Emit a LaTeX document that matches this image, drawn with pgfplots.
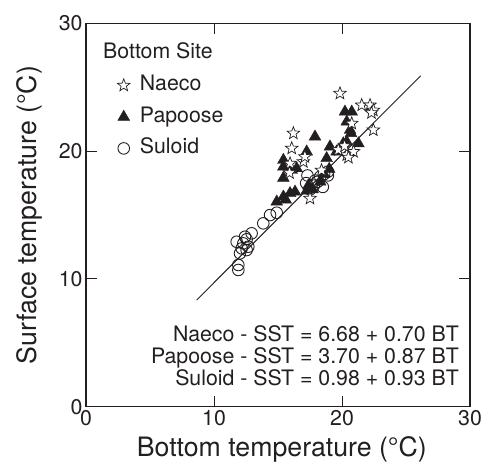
\documentclass[border=0pt]{standalone}
\usepackage{fontspec}
\setmainfont{TeX Gyre Heros}
\usepackage{pgfplots}
\pgfplotsset{compat=1.18}
\definecolor{ink}{HTML}{231F20}

% open five-pointed star
\pgfdeclareplotmark{ostar}{%
  \pgfpathmoveto{\pgfpointpolar{90}{\pgfplotmarksize}}%
  \pgfpathlineto{\pgfpointpolar{126}{0.42\pgfplotmarksize}}%
  \pgfpathlineto{\pgfpointpolar{162}{\pgfplotmarksize}}%
  \pgfpathlineto{\pgfpointpolar{198}{0.42\pgfplotmarksize}}%
  \pgfpathlineto{\pgfpointpolar{234}{\pgfplotmarksize}}%
  \pgfpathlineto{\pgfpointpolar{270}{0.42\pgfplotmarksize}}%
  \pgfpathlineto{\pgfpointpolar{306}{\pgfplotmarksize}}%
  \pgfpathlineto{\pgfpointpolar{342}{0.42\pgfplotmarksize}}%
  \pgfpathlineto{\pgfpointpolar{18}{\pgfplotmarksize}}%
  \pgfpathlineto{\pgfpointpolar{54}{0.42\pgfplotmarksize}}%
  \pgfpathclose
  \pgfusepathqfillstroke
}

\newcommand{\txt}{\fontsize{21.3}{25}\selectfont}

\begin{document}
\begin{tikzpicture}
\begin{axis}[
  scale only axis, width=384pt, height=383.3pt,
  xmin=0, xmax=30, ymin=0, ymax=30,
  xtick={0,10,20,30}, ytick={0,10,20,30},
  tick align=inside, major tick length=11pt,
  axis line style={line width=1.4pt, ink},
  tick style={line width=0.9pt, ink},
  ticklabel style={font=\txt, text=ink},
  /pgf/number format/assume math mode=true,
  xlabel={Bottom temperature (°C)},
  ylabel={Surface temperature (°C)},
  label style={font=\fontsize{26.7}{30}\selectfont, text=ink},
  xlabel style={at={(rel axis cs:0.51,-0.129)}, anchor=base},
  ylabel style={at={(rel axis cs:-0.130,0.5)}, anchor=base},
  legend style={draw=none, fill=none, inner sep=0pt,
    at={(axis cs:2.37,26.06)}, anchor=north west,
    row sep=8.5pt, font=\txt, text=ink,
    nodes={inner sep=2pt, text height=15pt, text depth=4pt}},
  legend cell align=left,
  legend image code/.code={\path (0pt,-4pt) (21pt,4pt); \draw[#1] plot coordinates {(7pt,0pt)};},
]
% Papoose
\addplot[only marks, mark=triangle*, mark size=6.8pt, draw=ink, fill=ink, forget plot] coordinates {
  (17.89,21.13) (17.24,19.96) (19.06,20.35) (18.80,19.44) (15.42,19.30)
  (15.42,18.78) (16.07,18.52) (16.46,18.65) (15.42,17.90) (15.42,16.43)
  (15.94,16.70) (16.33,16.82) (14.90,16.04) (15.60,16.20) (17.24,16.90)
  (17.37,17.30) (20.23,23.08) (20.76,23.08) (20.37,22.30) (20.63,21.65)
  (20.70,21.40) (20.10,20.60) (20.37,20.73) (21.28,20.60) (19.58,19.96)
  (18.60,18.20) (19.00,18.60) (18.30,17.60) (17.70,17.00)
};
% Suloid
\addplot[only marks, mark=o, mark size=5.8pt, mark options={draw=ink, fill=white, line width=0.9pt}, forget plot] coordinates {
  (11.90,10.70) (11.90,11.09) (12.03,12.00) (12.55,12.26) (12.16,12.39)
  (12.68,12.52) (12.29,12.78) (11.77,12.91) (12.42,13.30) (12.94,13.57)
  (12.55,13.10) (13.85,14.35) (14.38,15.00) (14.90,15.18)
  (17.30,18.10) (17.20,17.50) (17.90,17.70) (18.30,18.00) (18.90,18.40)
  (18.50,17.20) (17.80,17.30) (18.10,17.60) (18.90,18.10) (18.60,18.20)
  (17.50,17.00)
};
% Naeco
\addplot[only marks, mark=ostar, mark size=6.6pt, mark options={draw=ink, fill=white, line width=0.7pt}, forget plot] coordinates {
  (19.84,24.52) (21.54,23.60) (22.19,23.60) (22.45,23.20) (22.30,23.00)
  (20.76,22.17) (22.45,21.65) (16.20,21.40) (16.07,20.22) (16.98,19.17)
  (17.10,19.56) (15.94,19.04) (15.90,18.30) (20.37,19.70) (19.71,20.09)
  (20.90,19.96) (20.50,19.50) (17.50,16.30) (18.40,18.50) (20.20,20.40)
};
% 1:1 line
\addplot[ink, line width=1pt, forget plot] coordinates {(8.65,8.35) (26.15,25.9)};

\addlegendimage{only marks, mark=ostar, mark size=6.6pt, mark options={draw=ink, fill=white, line width=0.7pt}}
\addlegendentry{Naeco}
\addlegendimage{only marks, mark=triangle*, mark size=6.8pt, draw=ink, fill=ink}
\addlegendentry{Papoose}
\addlegendimage{only marks, mark=o, mark size=5.8pt, mark options={draw=ink, fill=white, line width=0.9pt}}
\addlegendentry{Suloid}

\node[anchor=base west, inner sep=0pt, font=\txt, text=ink] at (axis cs:1.33,27.26) {Bottom Site};
\node[anchor=base east, inner sep=0pt, font=\txt, text=ink] at (axis cs:29.14,5.09) {Naeco - SST = 6.68 + 0.70 BT};
\node[anchor=base east, inner sep=0pt, font=\txt, text=ink] at (axis cs:29.14,3.39) {Papoose - SST = 3.70 + 0.87 BT};
\node[anchor=base east, inner sep=0pt, font=\txt, text=ink] at (axis cs:29.14,1.64) {Suloid - SST = 0.98 + 0.93 BT};

\coordinate (bbl) at (rel axis cs:-0.224,-0.1443);
\coordinate (btr) at (rel axis cs:1.03125,1.0610);
\end{axis}
\pgfresetboundingbox
\path[use as bounding box] (bbl) rectangle (btr);
\end{tikzpicture}
\end{document}
